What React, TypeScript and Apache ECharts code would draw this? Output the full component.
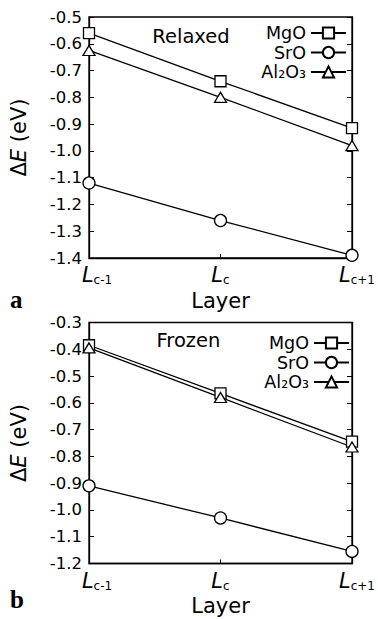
import React, { useEffect, useRef } from 'react';
import * as echarts from 'echarts';

// ---- data ----
const layerCategories = ['Lc-1', 'Lc', 'Lc+1'];
const layerSubscripts = ['c-1', 'c', 'c+1'];
const seriesNames = ['MgO', 'SrO', 'Al₂O₃'];

const relaxedMgO = [-0.56, -0.74, -0.915];
const relaxedSrO = [-1.12, -1.26, -1.39];
const relaxedAl2O3 = [-0.625, -0.8, -0.98];

const frozenMgO = [-0.385, -0.565, -0.745];
const frozenSrO = [-0.91, -1.03, -1.155];
const frozenAl2O3 = [-0.395, -0.58, -0.765];

const relaxedRange = [-1.4, -0.5];
const frozenRange = [-1.2, -0.3];
const tickStep = 0.1;

const panelTitles = ['Relaxed', 'Frozen'];
const panelLetters = ['a', 'b'];

const FONT = 'DejaVu Sans';

export default function App() {
  const ref = useRef<HTMLDivElement>(null);

  useEffect(() => {
    document.body.style.margin = '0';
    if (!ref.current) return;
    const chart = echarts.init(ref.current, undefined, { renderer: 'svg' });

    const grids = [
      { left: 86, top: 17, width: 273, height: 241 },
      { left: 86, top: 322.5, width: 276, height: 241 },
    ];
    const ranges = [relaxedRange, frozenRange];
    const data = [
      [relaxedMgO, relaxedSrO, relaxedAl2O3],
      [frozenMgO, frozenSrO, frozenAl2O3],
    ];
    const symbols = ['rect', 'circle', 'triangle'];
    const symbolSizes: any[] = [11, 12, [12, 10]];
    const labelShiftPads = [16, 0, 10];

    const Lstyle = (pad: number) => ({
      fontSize: 21,
      fontStyle: 'italic',
      fontFamily: FONT,
      color: '#000',
      lineHeight: 22,
      padding: [0, 0, 0, pad],
    });

    const xAxes: any[] = [];
    const yAxes: any[] = [];
    const series: any[] = [];
    grids.forEach((g, gi) => {
      xAxes.push({
        type: 'category',
        gridIndex: gi,
        data: layerCategories,
        boundaryGap: false,
        axisLine: { show: true, lineStyle: { color: '#000', width: 1.3 } },
        axisTick: { show: true, inside: true, length: 4, lineStyle: { color: '#000' } },
        splitLine: { show: false },
        axisLabel: {
          interval: 0,
          margin: 6,
          color: '#000',
          formatter: (_v: string, i: number) => `{L${i}|L}{s|${layerSubscripts[i]}}`,
          rich: {
            L0: Lstyle(labelShiftPads[0]),
            L1: Lstyle(labelShiftPads[1]),
            L2: Lstyle(labelShiftPads[2]),
            s: { fontSize: 12, fontFamily: FONT, color: '#000', lineHeight: 8, verticalAlign: 'bottom' },
          },
        },
        name: 'Layer',
        nameLocation: 'middle',
        nameGap: 32,
        nameTextStyle: { fontSize: 21, fontFamily: FONT, color: '#000' },
      });
      const r = ranges[gi];
      yAxes.push({
        type: 'value',
        gridIndex: gi,
        position: 'left',
        min: r[0],
        max: r[1],
        interval: tickStep,
        axisLine: { show: true, lineStyle: { color: '#000', width: 1.3 } },
        axisTick: { show: true, inside: true, length: 5, lineStyle: { color: '#000' } },
        splitLine: { show: false },
        axisLabel: {
          margin: 7,
          color: '#000',
          fontSize: 16.5,
          lineHeight: 14,
          fontFamily: FONT,
          formatter: (v: number) => v.toFixed(1),
        },
        name: '{n|Δ}{i|E}{n| (eV)}',
        nameLocation: 'middle',
        nameGap: 60,
        nameRotate: 90,
        nameTextStyle: {
          rich: {
            n: { fontSize: 21, fontFamily: FONT, color: '#000' },
            i: { fontSize: 21, fontFamily: FONT, fontStyle: 'italic', color: '#000' },
          },
        },
      });
      yAxes.push({
        type: 'value',
        gridIndex: gi,
        position: 'right',
        min: r[0],
        max: r[1],
        interval: tickStep,
        axisLine: { show: true, lineStyle: { color: '#000', width: 1.3 } },
        axisTick: { show: true, inside: true, length: 5, lineStyle: { color: '#000' } },
        splitLine: { show: false },
        axisLabel: { show: false },
      });
      data[gi].forEach((vals, si) => {
        series.push({
          type: 'line',
          name: seriesNames[si],
          xAxisIndex: gi,
          yAxisIndex: gi * 2,
          data: vals,
          symbol: symbols[si],
          symbolSize: symbolSizes[si],
          showSymbol: true,
          lineStyle: { color: '#000', width: 1.3 },
          itemStyle: { color: '#fff', borderColor: '#000', borderWidth: 1.3 },
          z: 3,
        });
      });
    });

    const legendTops = [24, 334];
    const legendRights = [31, 28];
    const titleCenters = [
      [191, 36],
      [188.5, 340],
    ];
    const letterYs = [299.5, 599.5];

    chart.setOption({
      animation: false,
      backgroundColor: '#fff',
      grid: grids.map((g) => ({
        ...g,
        show: true,
        borderColor: '#000',
        borderWidth: 1.3,
        backgroundColor: 'transparent',
      })),
      xAxis: xAxes,
      yAxis: yAxes,
      legend: legendTops.map((t, i) => ({
        data: seriesNames,
        orient: 'vertical',
        align: 'right',
        right: legendRights[i],
        top: t,
        itemWidth: 35,
        itemHeight: 14,
        itemGap: 1.5,
        padding: 0,
        selectedMode: false,
        textStyle: { fontSize: 17.5, lineHeight: 17.5, fontFamily: FONT, color: '#000' },
      })),
      graphic: [
        ...panelTitles.map((t, i) => ({
          type: 'text',
          x: titleCenters[i][0],
          y: titleCenters[i][1],
          style: {
            text: t,
            fontSize: 19.5,
            fontFamily: FONT,
            fill: '#000',
            align: 'center',
            verticalAlign: 'middle',
          },
        })),
        ...panelLetters.map((t, i) => ({
          type: 'text',
          x: 10,
          y: letterYs[i],
          style: {
            text: t,
            fontSize: 25,
            fontWeight: 'bold',
            fontFamily: 'Liberation Serif',
            fill: '#000',
            align: 'left',
            verticalAlign: 'middle',
          },
        })),
      ],
      series,
    });

    return () => chart.dispose();
  }, []);

  return <div ref={ref} style={{ width: 378, height: 619 }} />;
}
